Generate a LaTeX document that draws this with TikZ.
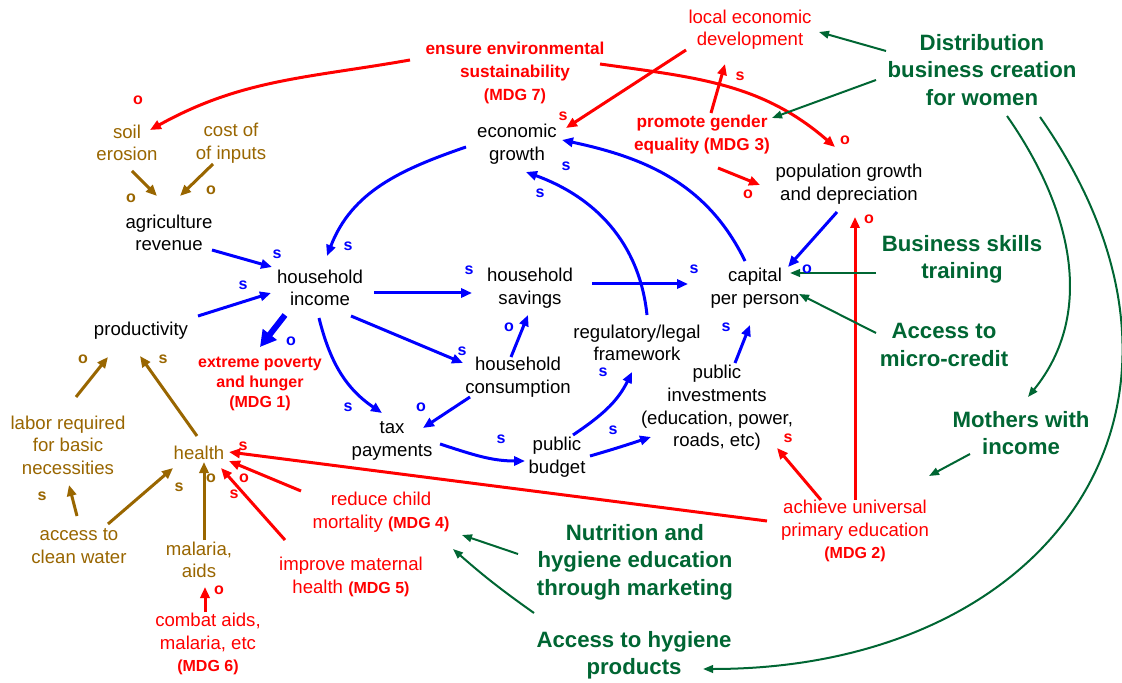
\documentclass[tikz,border=0pt]{standalone}
\usepackage{fontspec}
\setmainfont{Liberation Sans}
\usetikzlibrary{arrows.meta}
\definecolor{cred}{RGB}{255,0,0}
\definecolor{cblue}{RGB}{0,0,255}
\definecolor{cgreen}{RGB}{0,102,51}
\definecolor{cbrown}{RGB}{153,102,0}
\begin{document}
\begin{tikzpicture}[x=0.5pt,y=0.5pt,
  lbl/.style={inner sep=0pt,outer sep=0pt,align=center},
  blk/.style={lbl,font=\fontsize{9.3}{11.3}\selectfont},
  redr/.style={blk,text=cred},
  brn/.style={blk,text=cbrown},
  redb/.style={lbl,text=cred,font=\bfseries\fontsize{8.6}{11.5}\selectfont},
  grn/.style={lbl,text=cgreen,font=\bfseries\fontsize{11.1}{13.7}\selectfont},
  pol/.style={inner sep=0pt,font=\bfseries\fontsize{8}{9}\selectfont},
  barr/.style={draw=cblue,line width=1.5pt,-{Triangle[length=5.5pt,width=4.6pt]}},
  rarr/.style={barr,draw=cred},
  narr/.style={barr,draw=cbrown},
  garr/.style={draw=cgreen,line width=1pt,-{Triangle[length=5pt,width=3.8pt]}},
  thickarr/.style={draw=cblue,line width=3pt,-{Triangle[length=8pt,width=8.5pt]}}
]
\fill[white] (0,0) rectangle (1122,-683);
\useasboundingbox (0,0) rectangle (1122,-683);

% ---- variables ----
\node[redr] (lec) at (750,-29.5) {local economic\\development};
\node[redb] (env) at (515,-73) {ensure environmental\\sustainability\\{\fontsize{8.1}{11.5}\selectfont (MDG 7)}};
\node[grn] (dist) at (982,-70) {Distribution\\business creation\\for women};
\node[blk] (eg) at (517,-144) {economic\\growth};
\node[redb] (pge) at (702,-134.5) {promote gender\\equality (MDG 3)};
\node[brn] (soil) at (127,-143) {soil\\erosion};
\node[brn] (cost) at (231,-143) {cost of\\of inputs};
\node[blk] (agri) at (169,-233) {agriculture\\revenue};
\node[blk] (hi) at (320,-288) {household\\income};
\node[blk] (hs) at (530,-288) {household\\savings};
\node[blk] (prod) at (141,-331) {productivity};
\node[redb,font=\bfseries\fontsize{8}{10}\selectfont] (pov) at (260,-384) {extreme poverty\\and hunger\\(MDG 1)};
\node[blk] (hc) at (518,-377) {household\\consumption};
\node[blk] (tax) at (392,-441) {tax\\payments};
\node[blk] (pb) at (557,-457) {public\\budget};
\node[blk] (reg) at (637,-343) {regulatory/legal\\framework};
\node[blk] (cap) at (755,-288) {capital\\per person};
\node[blk] (pop) at (849,-184) {population growth\\and depreciation};
\node[blk] (pi) at (717,-408) {public\\investments\\(education, power,\\roads, etc)};
\node[grn] (bst) at (962,-259.5) {Business skills\\training};
\node[grn] (amc) at (944,-345) {Access to\\micro-credit};
\node[grn] (mwi) at (1021,-433) {Mothers with\\income};
\node[redr] (aup) at (855,-531) {achieve universal\\primary education\\{\bfseries\fontsize{8}{10}\selectfont (MDG 2)}};
\node[grn] (nhe) at (635,-562) {Nutrition and\\hygiene education\\through marketing};
\node[grn] (ahp) at (634,-655) {Access to hygiene\\products};
\node[brn] (health) at (199,-453) {health};
\node[brn] (labor) at (68,-445) {labor required\\for basic\\necessities};
\node[brn] (acw) at (79,-546) {access to\\clean water};
\node[brn] (mal) at (199,-560) {malaria,\\aids};
\node[redr] (cmb) at (208,-644) {combat aids,\\malaria, etc\\{\bfseries\fontsize{8}{10}\selectfont (MDG 6)}};
\node[redr] (rcm) at (381,-512) {reduce child\\mortality {\bfseries\fontsize{8}{11.3}\selectfont (MDG 4)}};
\node[redr] (imh) at (351,-577) {improve maternal\\health {\bfseries\fontsize{8}{11.3}\selectfont (MDG 5)}};

% ---- red links ----
\draw[rarr] ([shift={(-105,13)}]env.center) to[out=190,in=29] ([shift={(23,13)}]soil.center);
\draw[rarr] ([shift={(85,9)}]env.center) to[out=-8,in=139] ([shift={(-14,37)}]pop.center);
\draw[rarr] ([shift={(-64,-20.5)}]lec.center) -- ([shift={(49,16)}]eg.center);
\draw[rarr] ([shift={(9,21.5)}]pge.center) -- ([shift={(-25,-34.5)}]lec.center);
\draw[rarr] ([shift={(16,-33.5)}]pge.center) -- ([shift={(-89,-1)}]pop.center);
\draw[rarr] ([shift={(-88,10)}]aup.center) -- ([shift={(30,1)}]health.center);
\draw[rarr] ([shift={(-80,21)}]rcm.center) -- ([shift={(30,-8)}]health.center);
\draw[rarr] ([shift={(-66,37)}]imh.center) -- ([shift={(22,-15)}]health.center);
\draw[rarr] ([shift={(-3,32)}]cmb.center) -- ([shift={(6,-27)}]mal.center);
\draw[rarr] ([shift={(0,31)}]aup.center) -- ([shift={(6,-33)}]pop.center);
\draw[rarr] ([shift={(-34,31)}]aup.center) -- ([shift={(60,-40)}]pi.center);
\draw[thickarr] ([shift={(-35,-27)}]hi.center) -- ([shift={(0,37)}]pov.center);

% ---- green links ----
\draw[garr] ([shift={(-96,19)}]dist.center) -- ([shift={(69,-2.5)}]lec.center);
\draw[garr] ([shift={(-106,-10)}]dist.center) -- ([shift={(70,16.5)}]pge.center);
\draw[garr] ([shift={(-86,-13.5)}]bst.center) -- ([shift={(35,15)}]cap.center);
\draw[garr] ([shift={(-68,12)}]amc.center) -- ([shift={(44,-6)}]cap.center);
\draw[garr] ([shift={(25,-46)}]dist.center) to[out=-55,in=51] ([shift={(7,36)}]mwi.center);
\draw[garr] ([shift={(58,-47)}]dist.center) .. controls +(201,-287) and +(350,0) .. ([shift={(69,-14)}]ahp.center);
\draw[garr] ([shift={(-51,-21)}]mwi.center) -- ([shift={(74,55)}]aup.center);
\draw[garr] ([shift={(-117,8)}]nhe.center) -- ([shift={(81,-23)}]rcm.center);
\draw[garr] ([shift={(-100,42)}]ahp.center) to[bend left=3] ([shift={(72,-37)}]rcm.center);

% ---- blue links ----
\draw[barr] ([shift={(-51,-3)}]eg.center) to[out=199,in=69] ([shift={(7,32)}]hi.center);
\draw[barr] ([shift={(43,-17)}]agri.center) -- ([shift={(-48,21)}]hi.center);
\draw[barr] ([shift={(57,15)}]prod.center) -- ([shift={(-49,-5)}]hi.center);
\draw[barr] ([shift={(54,-5)}]hi.center) -- ([shift={(-58,-5)}]hs.center);
\draw[barr] ([shift={(31,-28)}]hi.center) -- ([shift={(-55,14)}]hc.center);
\draw[barr] ([shift={(-1,-30)}]hi.center) to[out=-76,in=146] ([shift={(-10,28)}]tax.center);
\draw[barr] ([shift={(-7,20)}]hc.center) -- ([shift={(-2,-27)}]hs.center);
\draw[barr] ([shift={(-48,-20)}]hc.center) -- ([shift={(31,13)}]tax.center);
\draw[barr] ([shift={(48,-3)}]tax.center) to[out=-18,in=180] ([shift={(-32,-4)}]pb.center);
\draw[barr] ([shift={(16,22)}]pb.center) to[out=34,in=244] ([shift={(-5,-29)}]reg.center);
\draw[barr] ([shift={(33,1)}]pb.center) to[out=16,in=198] ([shift={(-66,-29)}]pi.center);
\draw[barr] ([shift={(18,45)}]pi.center) -- ([shift={(-5,-37)}]cap.center);
\draw[barr] ([shift={(62,4)}]hs.center) -- ([shift={(-67,4)}]cap.center);
\draw[barr] ([shift={(10,28)}]reg.center) to[out=96,in=-20] ([shift={(9,-28)}]eg.center);
\draw[barr] ([shift={(-10,27)}]cap.center) to[out=116,in=-12] ([shift={(45,4)}]eg.center);
\draw[barr] ([shift={(-12,-28)}]pop.center) -- ([shift={(33,21)}]cap.center);

% ---- brown links ----
\draw[narr] ([shift={(5,-28)}]soil.center) -- ([shift={(-12,37)}]agri.center);
\draw[narr] ([shift={(-18,-21)}]cost.center) -- ([shift={(11,37)}]agri.center);
\draw[narr] ([shift={(8,48)}]labor.center) -- ([shift={(-33,-26)}]prod.center);
\draw[narr] ([shift={(-2,17)}]health.center) -- ([shift={(-1,-25)}]prod.center);
\draw[narr] ([shift={(-2,30)}]acw.center) -- ([shift={(1,-40)}]labor.center);
\draw[narr] ([shift={(29,22)}]acw.center) -- ([shift={(-26,-15)}]health.center);
\draw[narr] ([shift={(5,20)}]mal.center) -- ([shift={(5,-9)}]health.center);

% ---- link polarities ----
\foreach \x/\y/\t [count=\i] in {138/100/o,845/140/o,563/116/s,740/76/s,748/194/o,243/446/s,244/478/o,234/494/s,219/590/o,869/219/o,788/438/s}
  \node[pol,text=cred] (pr\i) at (\x,-\y) {\t};
\foreach \x/\y/\t [count=\i] in {291/341/o,348/246/s,277/254/s,243/285/s,469/270/s,462/351/s,348/407/s,509/327/o,421/407/o,501/439/s,603/372/s,613/430/s,726/327/s,694/269/s,540/193/s,566/166/s,807/269/o}
  \node[pol,text=cblue] (pb\i) at (\x,-\y) {\t};
\foreach \x/\y/\t [count=\i] in {131/198/o,211/190/o,83/359/o,163/359/s,42/496/s,179/487/s,211/478/o}
  \node[pol,text=cbrown] (pn\i) at (\x,-\y) {\t};
\end{tikzpicture}
\end{document}
